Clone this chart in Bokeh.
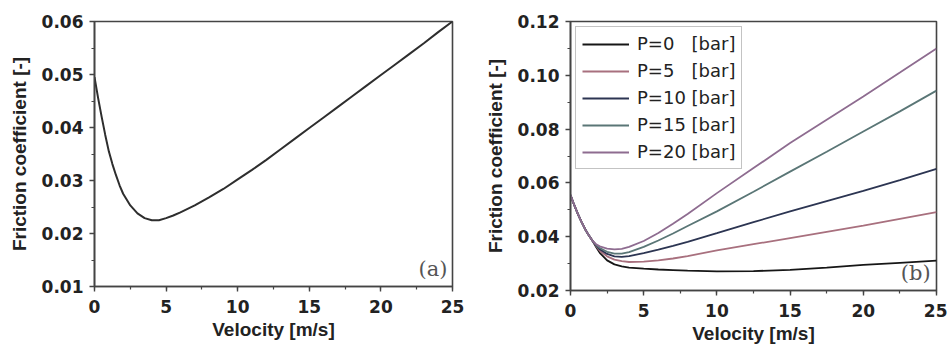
from bokeh.plotting import figure
from bokeh.layouts import row
from bokeh.models import Range1d, SingleIntervalTicker, PrintfTickFormatter, Label
from bokeh.embed import file_html
from bokeh.resources import INLINE

# ---------------- data ----------------
# panel (a)
vel_a = [0, 0.25, 0.5, 0.75, 1.0, 1.25, 1.5, 1.75, 2.0, 2.5, 3.0, 3.5, 4.0, 4.5, 5.0, 5.5, 6, 7, 8, 9,
         10, 11, 12, 13, 14, 15, 16, 17, 18, 19, 20, 21, 22, 23, 24, 25]
fric_a = [0.0495, 0.0456, 0.0420, 0.0386, 0.0355, 0.0331, 0.0310, 0.0291, 0.0275, 0.0253, 0.0238, 0.0229,
          0.0225, 0.0225, 0.0229, 0.0234, 0.0240, 0.0253, 0.0268, 0.0284, 0.0302, 0.0320, 0.0339, 0.0359,
          0.0379, 0.0399, 0.0419, 0.0439, 0.0459, 0.0479, 0.0499, 0.0519, 0.0539, 0.0559, 0.0580, 0.0600]

# panel (b)
vel_b = [0, 0.25, 0.5, 0.75, 1.0, 1.25, 1.5, 1.75, 2.0, 2.5, 3, 3.5, 4, 5, 6, 7, 8, 10, 12.5, 15, 17.5, 20, 22.5, 25]
start_b = [0.0555, 0.0518, 0.0485, 0.0455, 0.0428, 0.0405, 0.0385]
p0 = start_b + [0.0362, 0.0340, 0.0312, 0.0297, 0.0290, 0.0285, 0.0281, 0.0278, 0.0276, 0.0274, 0.0271,
                0.0272, 0.0277, 0.0285, 0.0295, 0.0303, 0.0311]
p5 = start_b + [0.0365, 0.0348, 0.0327, 0.0315, 0.0309, 0.0306, 0.0307, 0.0312, 0.0319, 0.0328, 0.0349,
                0.0372, 0.0395, 0.0418, 0.0441, 0.0466, 0.0491]
p10 = start_b + [0.0367, 0.0353, 0.0336, 0.0327, 0.0325, 0.0328, 0.0339, 0.0352, 0.0366, 0.0381, 0.0413,
                 0.0454, 0.0494, 0.0532, 0.0570, 0.0610, 0.0652]
p15 = start_b + [0.0369, 0.0358, 0.0344, 0.0337, 0.0337, 0.0343, 0.0362, 0.0386, 0.0412, 0.0440, 0.0494,
                 0.0567, 0.0642, 0.0716, 0.0791, 0.0866, 0.0943]
p20 = start_b + [0.0372, 0.0364, 0.0356, 0.0353, 0.0355, 0.0362, 0.0384, 0.0414, 0.0448, 0.0484, 0.0562,
                 0.0655, 0.0748, 0.0835, 0.0921, 0.1010, 0.1100]
series_b = [p0, p5, p10, p15, p20]
labels_b = ["P=0\u2007 [bar]", "P=5\u2007 [bar]", "P=10 [bar]", "P=15 [bar]", "P=20 [bar]"]
colors_b = ["#161616", "#a8707e", "#2c3552", "#5a7676", "#8e6c90"]

x_title = "Velocity [m/s]"
y_title = "Friction coefficient [-]"

AX = "#444444"
TICK_FONT = "DejaVu Sans"
TITLE_FONT = "Liberation Sans Narrow, Liberation Sans"


def style(p, y_interval):
    p.xgrid.visible = False
    p.ygrid.visible = False
    p.outline_line_color = AX
    p.outline_line_width = 1.6
    p.background_fill_color = "white"
    p.border_fill_color = "white"
    p.xaxis.ticker = SingleIntervalTicker(interval=5, num_minor_ticks=2)
    p.yaxis.ticker = SingleIntervalTicker(interval=y_interval, num_minor_ticks=2)
    p.yaxis.formatter = PrintfTickFormatter(format="%.2f")
    p.xaxis.formatter = PrintfTickFormatter(format="%d")
    for ax in (p.xaxis, p.yaxis):
        ax.axis_line_color = AX
        ax.axis_line_width = 1.6
        ax.major_tick_line_color = AX
        ax.minor_tick_line_color = AX
        ax.major_tick_line_width = 1.4
        ax.minor_tick_line_width = 1.2
        ax.major_tick_out = 5
        ax.major_tick_in = 0
        ax.minor_tick_out = 3
        ax.minor_tick_in = 0
        ax.major_label_text_font = TICK_FONT
        ax.major_label_text_font_style = "bold"
        ax.major_label_text_font_size = "17px"
        ax.major_label_text_color = "#222222"
        ax.axis_label_text_font = TITLE_FONT
        ax.axis_label_text_font_style = "bold"
        ax.axis_label_text_font_size = "19px"
        ax.axis_label_text_color = "#222222"
    p.xaxis.major_label_standoff = 8
    p.xaxis.axis_label_standoff = 3
    p.yaxis.major_label_standoff = 6
    p.yaxis.axis_label_standoff = 9
    p.xaxis.axis_label = x_title
    p.yaxis.axis_label = y_title


# ---------------- panel (a) ----------------
pa = figure(output_backend="svg", toolbar_location=None,
            frame_width=358, frame_height=265,
            min_border_left=94, min_border_right=18, min_border_top=21, min_border_bottom=61,
            x_range=Range1d(0, 25), y_range=Range1d(0.01, 0.06))
style(pa, 0.01)
pa.line(vel_a, fric_a, line_color="#2e2e2e", line_width=2)
pa.add_layout(Label(x=24.65, y=0.0111, text="(a)", text_align="right", text_baseline="bottom",
                    text_font="DejaVu Serif", text_font_size="21px", text_color="#555555"))

# ---------------- panel (b) ----------------
pb = figure(output_backend="svg", toolbar_location=None,
            frame_width=366, frame_height=269,
            min_border_left=100, min_border_right=11, min_border_top=18, min_border_bottom=60,
            x_range=Range1d(0, 25), y_range=Range1d(0.02, 0.12))
style(pb, 0.02)
for ys, lab, col in zip(series_b, labels_b, colors_b):
    pb.line(vel_b, ys, line_color=col, line_width=1.8, legend_label=lab)
pb.add_layout(Label(x=24.6, y=0.0222, text="(b)", text_align="right", text_baseline="bottom",
                    text_font="DejaVu Serif", text_font_size="21px", text_color="#555555"))

lg = pb.legend[0]
lg.location = "top_left"
lg.margin = 5
lg.padding = 6
lg.spacing = 6
lg.glyph_width = 47
lg.glyph_height = 20
lg.label_height = 20
lg.label_standoff = 8
lg.label_text_font = TICK_FONT
lg.label_text_font_size = "18px"
lg.label_text_color = "#222222"
lg.border_line_color = "#888888"
lg.border_line_width = 1.2
lg.background_fill_color = "white"
lg.background_fill_alpha = 1.0

layout = row(pa, pb)
open("out.html", "w").write(file_html(layout, INLINE))
